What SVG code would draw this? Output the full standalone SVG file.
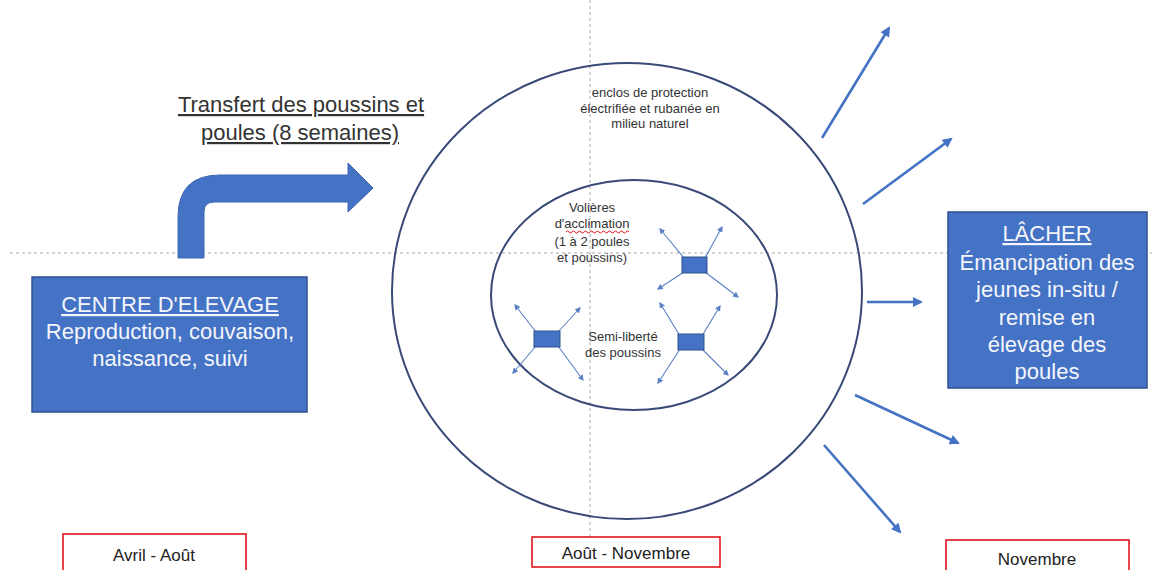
<svg xmlns="http://www.w3.org/2000/svg" width="1152" height="570" viewBox="0 0 1152 570">
<defs>
<style>
.guide{stroke:#a8a8a8;stroke-width:1;stroke-dasharray:3,3;fill:none}
.ring{fill:none;stroke:#3a4a78;stroke-width:2}
.box{fill:#4472C4;stroke:#2F528F;stroke-width:1.5}
.boxtxt{font-family:"Liberation Sans",Arial,sans-serif;font-size:22px;fill:#f4f6fb;text-anchor:middle}
.lbl{font-family:"Liberation Sans",Arial,sans-serif;fill:#333;text-anchor:middle}
.date{fill:#fff;stroke:#e0141e;stroke-width:1.6}
.datetxt{font-family:"Liberation Sans",Arial,sans-serif;font-size:17px;fill:#222;text-anchor:middle}
.big{stroke:#4472C4;stroke-width:2.6;fill:none;marker-end:url(#ah)}
.small{stroke:#5b7fc4;stroke-width:1.1;fill:none;marker-end:url(#ahs)}
.mini{fill:#4472C4;stroke:#2F528F;stroke-width:1}
</style>
<marker id="ah" viewBox="0 0 10 10" refX="8" refY="5" markerWidth="11" markerHeight="10" markerUnits="userSpaceOnUse" orient="auto">
<path d="M0,0 L10,5 L0,10 z" fill="#4472C4"/>
</marker>
<marker id="ahs" viewBox="0 0 10 10" refX="8" refY="5" markerWidth="6" markerHeight="6" markerUnits="userSpaceOnUse" orient="auto">
<path d="M0,0 L10,5 L0,10 z" fill="#5b7fc4"/>
</marker>
</defs>
<rect width="1152" height="570" fill="#fff"/>

<g id="guides">
<line class="guide" x1="10" y1="253" x2="1152" y2="253"/>
<line class="guide" x1="590" y1="0" x2="590" y2="570"/>
</g>

<g id="enclos">
<ellipse class="ring" cx="627" cy="291" rx="235" ry="228"/>
<text class="lbl" font-size="13" x="650" y="97">enclos de protection</text>
<text class="lbl" font-size="13" x="650" y="113">électrifiée et rubanée en</text>
<text class="lbl" font-size="13" x="650" y="128">milieu naturel</text>
</g>

<g id="volieres">
<ellipse class="ring" cx="634" cy="295" rx="143" ry="115"/>
<text class="lbl" font-size="13" x="592" y="212">Volières</text>
<text class="lbl" font-size="13" x="592" y="228">d'acclimation</text>
<path d="M566,232 q1.5,-2 3,0 t3,0 t3,0 t3,0 t3,0 t3,0 t3,0 t3,0 t3,0 t3,0 t3,0 t3,0 t3,0 t3,0 t3,0 t3,0 t3,0 t3,0 t3,0 t3,0 t3,0" fill="none" stroke="#e0141e" stroke-width="1"/>
<text class="lbl" font-size="13" x="592" y="246">(1 à 2 poules</text>
<text class="lbl" font-size="13" x="592" y="262">et poussins)</text>
<text class="lbl" font-size="13" x="623" y="341">Semi-liberté</text>
<text class="lbl" font-size="13" x="623" y="357">des poussins</text>
</g>

<g id="connectors">
<path d="M178,258 L178,217 Q178,175 220,175 L348,175 L348,163 L373,188 L348,212 L348,202 L214,202 Q204,202 204,212 L204,258 Z" fill="#4472C4" stroke="#3d66b0" stroke-width="1"/>
<line class="big" x1="822" y1="138" x2="889" y2="28"/>
<line class="big" x1="863" y1="204" x2="951" y2="139"/>
<line class="big" x1="867" y1="302" x2="921" y2="302"/>
<line class="big" x1="855" y1="395" x2="958" y2="443"/>
<line class="big" x1="824" y1="445" x2="900" y2="532"/>
<line class="small" x1="684" y1="258" x2="660" y2="229"/>
<line class="small" x1="705" y1="258" x2="722" y2="227"/>
<line class="small" x1="684" y1="272" x2="658" y2="289"/>
<line class="small" x1="705" y1="272" x2="738" y2="297"/>
<line class="small" x1="536" y1="332" x2="515" y2="305"/>
<line class="small" x1="558" y1="332" x2="580" y2="308"/>
<line class="small" x1="536" y1="346" x2="513" y2="373"/>
<line class="small" x1="558" y1="346" x2="583" y2="380"/>
<line class="small" x1="680" y1="336" x2="660" y2="303"/>
<line class="small" x1="702" y1="336" x2="720" y2="306"/>
<line class="small" x1="680" y1="349" x2="658" y2="383"/>
<line class="small" x1="702" y1="349" x2="728" y2="375"/>
</g>

<g id="minis">
<rect class="mini" x="682" y="257" width="25" height="16"/>
<rect class="mini" x="534" y="331" width="26" height="16"/>
<rect class="mini" x="678" y="334" width="26" height="16"/>
</g>

<g id="transfert">
<text class="lbl" font-size="22" x="301" y="112" text-decoration="underline">Transfert des poussins et</text>
<text class="lbl" font-size="22" x="300" y="140" text-decoration="underline">poules (8 semaines)</text>
</g>

<g id="centre">
<rect class="box" x="32" y="277" width="275" height="135"/>
<text class="boxtxt" x="170" y="312" text-decoration="underline">CENTRE D'ELEVAGE</text>
<text class="boxtxt" x="170" y="339">Reproduction, couvaison,</text>
<text class="boxtxt" x="170" y="366">naissance, suivi</text>
</g>

<g id="lacher">
<rect class="box" x="948" y="212" width="199" height="176"/>
<text class="boxtxt" x="1047" y="241" text-decoration="underline">LÂCHER</text>
<text class="boxtxt" x="1047" y="270">Émancipation des</text>
<text class="boxtxt" x="1047" y="297">jeunes in-situ /</text>
<text class="boxtxt" x="1047" y="325">remise en</text>
<text class="boxtxt" x="1047" y="352">élevage des</text>
<text class="boxtxt" x="1047" y="379">poules</text>
</g>

<g id="avril">
<rect class="date" x="63" y="534" width="183" height="40"/>
<text class="datetxt" x="154" y="561">Avril - Août</text>
</g>
<g id="aout">
<rect class="date" x="532" y="537" width="188" height="30"/>
<text class="datetxt" x="626" y="559">Août - Novembre</text>
</g>
<g id="novembre">
<rect class="date" x="946" y="540" width="183" height="36"/>
<text class="datetxt" x="1037" y="565">Novembre</text>
</g>
</svg>
